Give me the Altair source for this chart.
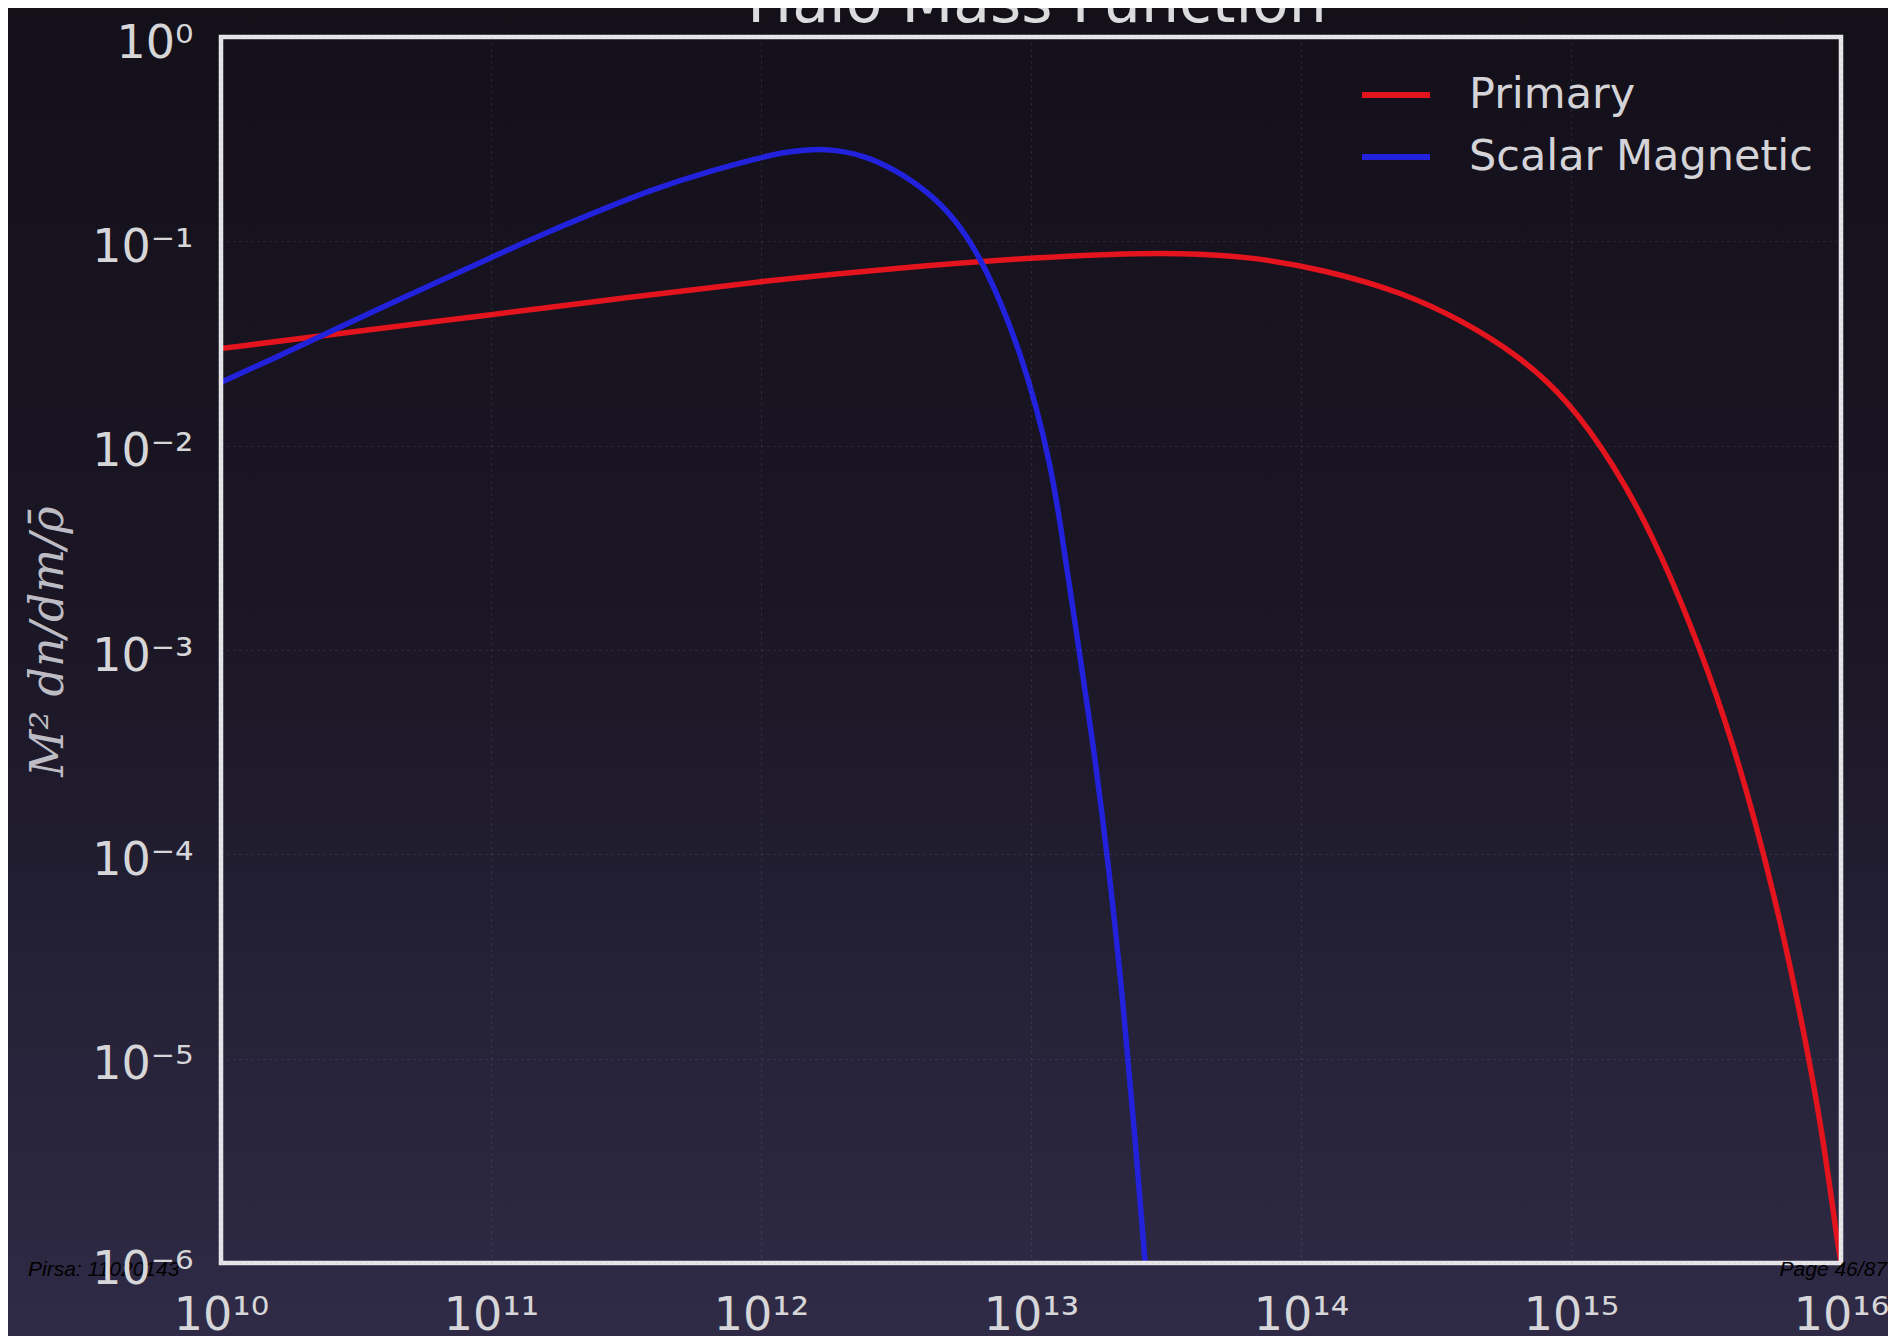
import altair as alt
import pandas as pd

# ---- data (log10 of mass, log10 of M^2 dn/dm / rho) ----
primary_logm = [10.0, 10.5, 11.0, 11.5, 12.0, 12.5, 13.0, 13.3, 13.55, 13.81, 14.09,
                14.38, 14.59, 14.80, 14.99, 15.16, 15.30, 15.44, 15.57, 15.68, 15.78,
                15.86, 15.93, 15.985, 16.0]
primary_logy = [-1.525, -1.44, -1.36, -1.275, -1.195, -1.13, -1.08, -1.062, -1.057, -1.074, -1.14,
                -1.252, -1.383, -1.552, -1.777, -2.095, -2.432, -2.862, -3.33, -3.82, -4.35,
                -4.85, -5.35, -5.88, -6.0]

scalar_logm = [10.0, 10.2, 10.4, 10.6, 10.8, 11.0, 11.2, 11.4, 11.6, 11.8, 12.0, 12.07,
               12.16, 12.255, 12.38, 12.50, 12.625, 12.725, 12.81, 12.885, 12.96, 13.02,
               13.07, 13.107, 13.15, 13.226, 13.289, 13.341, 13.385, 13.422, 13.45]
scalar_logy = [-1.69, -1.57, -1.445, -1.32, -1.20, -1.08, -0.96, -0.85, -0.745, -0.66, -0.59, -0.568,
               -0.552, -0.548, -0.578, -0.651, -0.764, -0.90, -1.077, -1.287, -1.547, -1.81,
               -2.085, -2.364, -2.756, -3.412, -4.068, -4.723, -5.379, -6.0, -6.4]

series_names = ["Primary", "Scalar Magnetic"]
series_colors = ["#e3141d", "#2222dd"]

x_tick_exp = [10, 11, 12, 13, 14, 15, 16]
x_tick_labels = ["10¹⁰", "10¹¹", "10¹²", "10¹³", "10¹⁴", "10¹⁵", "10¹⁶"]
y_tick_exp = [0, -1, -2, -3, -4, -5, -6]
y_tick_labels = ["10⁰", "10⁻¹", "10⁻²", "10⁻³", "10⁻⁴", "10⁻⁵", "10⁻⁶"]

title_text = "Halo Mass Function"
y_title = "M² dn/dm/ρ̄"
footer_left = "Pirsa: 11020143"
footer_right = "Page 46/87"

# ---- layout ----
W, H = 1620, 1226
PAD_L, PAD_T, PAD_R, PAD_B = 213, 29, 47, 73

rows = []
for lm, ly in zip(primary_logm, primary_logy):
    rows.append({"series": series_names[0], "mass": 10 ** lm, "value": 10 ** ly, "i": len(rows)})
for lm, ly in zip(scalar_logm, scalar_logy):
    rows.append({"series": series_names[1], "mass": 10 ** lm, "value": 10 ** ly, "i": len(rows)})
df = pd.DataFrame(rows)


def label_expr(exps, labels):
    parts = [f"round(log(datum.value)/LN10) == {e} ? '{l}'" for e, l in zip(exps, labels)]
    return " : ".join(parts) + " : ''"


one = pd.DataFrame({"k": [0]})

bg = alt.Chart(one).mark_rect(
    clip=False,
    fill=alt.LinearGradient(
        gradient="linear",
        stops=[
            alt.GradientStop(color="#14101a", offset=0),
            alt.GradientStop(color="#1a1624", offset=0.45),
            alt.GradientStop(color="#2f2b47", offset=1),
        ],
        x1=0, x2=0, y1=0, y2=1,
    ),
).encode(
    x=alt.value(-PAD_L), x2=alt.value(W + PAD_R),
    y=alt.value(-PAD_T), y2=alt.value(H + PAD_B),
)

grid_style = dict(grid=True, gridColor="#9a98a8", gridOpacity=0.2, gridDash=[2, 4], gridWidth=1.2)

lines = alt.Chart(df).mark_line(strokeWidth=5.5, clip=True, interpolate="basis").encode(
    x=alt.X(
        "mass:Q",
        scale=alt.Scale(type="log", domain=[1e10, 1e16], nice=False),
        axis=alt.Axis(
            values=[10.0 ** e for e in x_tick_exp],
            labelExpr=label_expr(x_tick_exp, x_tick_labels),
            title=None, domain=False, ticks=False, tickSize=0,
            labelFont="DejaVu Sans", labelFontSize=46, labelColor="#d6d6d8",
            labelPadding=30, labelFlush=False, labelOverlap=False,
            zindex=1, **grid_style,
        ),
    ),
    y=alt.Y(
        "value:Q",
        scale=alt.Scale(type="log", domain=[1e-6, 1], nice=False),
        axis=alt.Axis(
            values=[10.0 ** e for e in y_tick_exp],
            labelExpr=label_expr(y_tick_exp, y_tick_labels),
            title=y_title, titleFont="DejaVu Serif", titleFontStyle="italic",
            titleFontWeight="normal", titleFontSize=46, titleColor="#bdbcc4",
            titleAngle=270, titleX=-173, titleY=604, titleAlign="center", titleBaseline="middle",
            domain=False, ticks=False, tickSize=0,
            labelFont="DejaVu Sans", labelFontSize=46, labelColor="#d6d6d8",
            labelPadding=28, labelOffset=6, labelFlush=False, labelOverlap=False,
            zindex=1, **grid_style,
        ),
    ),
    color=alt.Color(
        "series:N",
        scale=alt.Scale(domain=series_names, range=series_colors),
        legend=alt.Legend(
            title=None, orient="none", legendX=1138, legendY=21, padding=0,
            symbolType="stroke", symbolSize=4624, symbolStrokeWidth=6,
            labelFont="DejaVu Sans", labelFontSize=43, labelColor="#d4d4d8",
            labelOffset=36, labelLimit=0, rowPadding=3, fillColor=None, strokeColor=None,
        ),
    ),
    order="i:Q",
)

frame = alt.Chart(one).mark_rect(
    fill=None, stroke="#e6e6ea", strokeWidth=4.5, clip=False
).encode(
    x=alt.value(0), x2=alt.value(W), y=alt.value(0), y2=alt.value(H)
)

title = alt.Chart(one).mark_text(
    text=title_text, font="DejaVu Sans", fontSize=60, color="#dcdcdf",
    align="center", baseline="alphabetic", clip=False,
).encode(x=alt.value(W / 2 + 6), y=alt.value(-15))

foot_l = alt.Chart(one).mark_text(
    text=footer_left, font="Liberation Sans", fontStyle="italic", fontSize=21,
    color="#000000", align="left", baseline="alphabetic", clip=False,
).encode(x=alt.value(-193), y=alt.value(1239))

foot_r = alt.Chart(one).mark_text(
    text=footer_right, font="Liberation Sans", fontStyle="italic", fontSize=21,
    color="#000000", align="right", baseline="alphabetic", clip=False,
).encode(x=alt.value(W + PAD_R - 1), y=alt.value(1239))

chart = alt.layer(bg, lines, frame, title, foot_l, foot_r).properties(
    width=W, height=H,
    padding={"left": PAD_L, "top": PAD_T, "right": PAD_R, "bottom": PAD_B},
    autosize=alt.AutoSizeParams(type="none"),
).configure(background="#1c1826").configure_view(stroke=None)

chart.save("out.html", embed_options={"renderer": "svg", "actions": False})
